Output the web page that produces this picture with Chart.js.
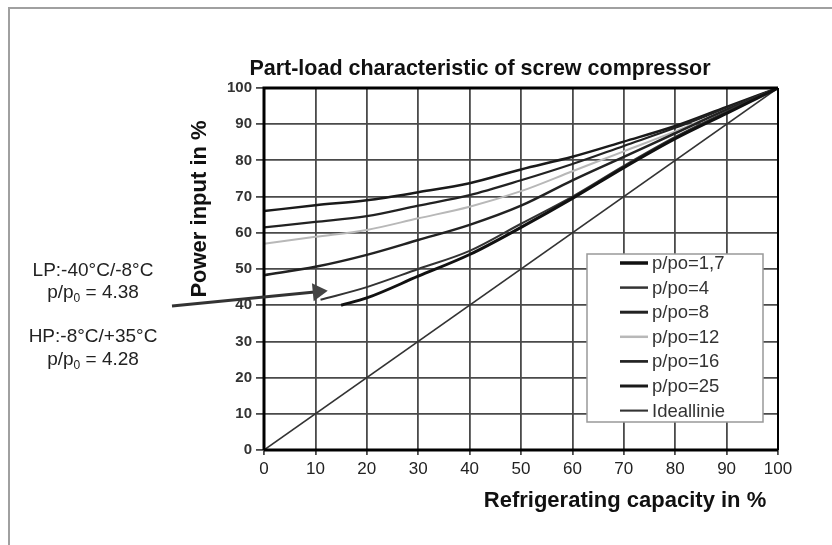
<!DOCTYPE html>
<html lang="en">
<head>
<meta charset="UTF-8" />
<title>Part-load characteristic of screw compressor</title>
<script src="https://cdn.jsdelivr.net/npm/chart.js@4.4.1/dist/chart.umd.min.js"></script>
<style>
  body { margin: 0; background: #fff; }
  #wrap { position: relative; width: 832px; height: 545px; }
  #frame { position: absolute; left: 8px; top: 7px; right: -10px; bottom: -10px;
           border-top: 2px solid #a0a0a0; border-left: 2px solid #a0a0a0; pointer-events: none; }
  canvas { position: absolute; left: 0; top: 0; }
</style>
</head>
<body>
<div id="wrap">
  <canvas id="chart" width="832" height="545"></canvas>
  <div id="frame"></div>
</div>
<script>
  // refrigerating capacity in % (x) and power input in % (y)
  const capacity = [0, 10, 20, 30, 40, 50, 60, 70, 80, 90, 100];
  const cap17 = [15, 20, 30, 40, 50, 60, 70, 80, 90, 100];
  const pow17 = [40, 42, 48, 54, 61.5, 69.5, 78, 86, 93, 100];
  const cap4 = [11, 20, 30, 40, 50, 60, 70, 80, 90, 100];
  const pow4 = [41.5, 45, 50, 55, 62.5, 70, 78.5, 86.5, 93.5, 100];
  const pow8 = [48.3, 50.6, 53.9, 58, 62.2, 67.5, 74.5, 81, 87.5, 94, 100];
  const pow12 = [57, 58.9, 60.8, 64, 67.2, 71.5, 77, 82.5, 88, 94, 100];
  const pow16 = [61.5, 63, 64.6, 67.5, 70.4, 74.5, 79, 84, 89, 94.5, 100];
  const pow25 = [66, 67.6, 69, 71.2, 73.7, 77.5, 81, 85.2, 89.5, 94.8, 100];
  const capIdeal = [0, 100];
  const powIdeal = [0, 100];

  const seriesNames = ['p/po=1,7', 'p/po=4', 'p/po=8', 'p/po=12', 'p/po=16', 'p/po=25', 'Ideallinie'];
  const seriesColors = ['#111', '#333', '#222', '#b8b8b8', '#222', '#1a1a1a', '#333'];
  const seriesWidths = [3, 2, 2.5, 2, 2.2, 2.5, 1.6];

  function pts(xs, ys) { return xs.map((x, i) => ({ x: x, y: ys[i] })); }
  const seriesData = [
    pts(cap17, pow17), pts(cap4, pow4), pts(capacity, pow8), pts(capacity, pow12),
    pts(capacity, pow16), pts(capacity, pow25), pts(capIdeal, powIdeal)
  ];

  const FONT = "'Liberation Sans', Arial, sans-serif";

  function subText(ctx, cx, cy, a, sub, b, size) {
    ctx.font = size + 'px ' + FONT;
    const wa = ctx.measureText(a).width, wb = ctx.measureText(b).width;
    ctx.font = Math.round(size * 0.65) + 'px ' + FONT;
    const ws = ctx.measureText(sub).width;
    let x = cx - (wa + ws + wb) / 2;
    ctx.textAlign = 'left';
    ctx.font = size + 'px ' + FONT;
    ctx.fillText(a, x, cy);
    ctx.font = Math.round(size * 0.65) + 'px ' + FONT;
    ctx.fillText(sub, x + wa, cy + size * 0.3);
    ctx.font = size + 'px ' + FONT;
    ctx.fillText(b, x + wa + ws, cy);
  }

  const decor = {
    id: 'decor',
    afterDraw(chart) {
      const ctx = chart.ctx, a = chart.chartArea;
      const xs = chart.scales.x, ys = chart.scales.y;
      ctx.save();
      // plot frame
      ctx.strokeStyle = '#000';
      ctx.lineWidth = 3;
      ctx.beginPath();
      ctx.moveTo(a.left, a.bottom); ctx.lineTo(a.left, a.top); ctx.lineTo(a.right, a.top);
      ctx.moveTo(a.left, a.bottom); ctx.lineTo(a.right, a.bottom);
      ctx.stroke();
      ctx.lineWidth = 2;
      ctx.beginPath(); ctx.moveTo(a.right, a.top); ctx.lineTo(a.right, a.bottom); ctx.stroke();

      // titles
      ctx.fillStyle = '#111';
      ctx.textBaseline = 'middle';
      ctx.textAlign = 'center';
      ctx.font = 'bold 21.5px ' + FONT;
      ctx.fillText('Part-load characteristic of screw compressor', 480, 69);
      ctx.font = 'bold 22px ' + FONT;
      ctx.fillText('Refrigerating capacity in %', 625, 501);
      ctx.save();
      ctx.translate(200, 209);
      ctx.rotate(-Math.PI / 2);
      ctx.fillText('Power input in %', 0, 0);
      ctx.restore();

      // operating point annotation
      ctx.fillStyle = '#222';
      ctx.font = '19px ' + FONT;
      ctx.fillText('LP:-40\u00B0C/-8\u00B0C', 93, 271);
      subText(ctx, 93, 293, 'p/p', '0', ' = 4.38', 19);
      ctx.textAlign = 'center';
      ctx.fillText('HP:-8\u00B0C/+35\u00B0C', 93, 337);
      subText(ctx, 93, 360, 'p/p', '0', ' = 4.28', 19);

      const tx = xs.getPixelForValue(12.4), ty = ys.getPixelForValue(44);
      const sx = 172, sy = 306;
      const ang = Math.atan2(ty - sy, tx - sx);
      ctx.strokeStyle = '#333';
      ctx.fillStyle = '#444';
      ctx.lineWidth = 3;
      ctx.beginPath();
      ctx.moveTo(sx, sy);
      ctx.lineTo(tx - 13 * Math.cos(ang), ty - 13 * Math.sin(ang));
      ctx.stroke();
      ctx.beginPath();
      ctx.moveTo(tx, ty);
      ctx.lineTo(tx - 15 * Math.cos(ang) + 9 * Math.sin(ang), ty - 15 * Math.sin(ang) - 9 * Math.cos(ang));
      ctx.lineTo(tx - 15 * Math.cos(ang) - 9 * Math.sin(ang), ty - 15 * Math.sin(ang) + 9 * Math.cos(ang));
      ctx.closePath();
      ctx.fill();

      // legend box
      const lx = 587, ly = 254, lw = 176, lh = 168;
      ctx.fillStyle = '#fff';
      ctx.fillRect(lx, ly, lw, lh);
      ctx.strokeStyle = '#999';
      ctx.lineWidth = 1.5;
      ctx.strokeRect(lx, ly, lw, lh);
      ctx.font = '18.5px ' + FONT;
      ctx.textAlign = 'left';
      chart.data.datasets.forEach((ds, i) => {
        const y = 263 + i * 24.6;
        ctx.strokeStyle = ds.borderColor;
        ctx.lineWidth = ds.borderWidth + 0.5;
        ctx.beginPath(); ctx.moveTo(620, y); ctx.lineTo(648, y); ctx.stroke();
        ctx.fillStyle = '#333';
        ctx.fillText(ds.label, 652, y + 1);
      });
      ctx.restore();
    }
  };

  new Chart(document.getElementById('chart'), {
    type: 'line',
    data: {
      datasets: seriesNames.map((name, i) => ({
        label: name,
        data: seriesData[i],
        borderColor: seriesColors[i],
        borderWidth: seriesWidths[i],
        pointRadius: 0,
        fill: false,
        cubicInterpolationMode: 'monotone'
      }))
    },
    options: {
      responsive: false,
      animation: false,
      layout: { padding: { left: 224, right: 54, top: 88, bottom: 55 } },
      plugins: { legend: { display: false }, title: { display: false }, tooltip: { enabled: false } },
      scales: {
        x: {
          type: 'linear', min: 0, max: 100,
          afterFit: s => { s.height = 40; },
          ticks: { stepSize: 10, color: '#222', padding: 4, font: { family: FONT, size: 17 } },
          grid: { color: '#4a4a4a', lineWidth: 1.8, tickLength: 5 },
          border: { display: false }
        },
        y: {
          type: 'linear', min: 0, max: 100,
          afterFit: s => { s.width = 40; },
          ticks: { stepSize: 10, color: '#333', padding: 4, font: { family: FONT, size: 15, weight: 'bold' } },
          grid: { color: '#4a4a4a', lineWidth: 1.8, tickLength: 8 },
          border: { display: false }
        }
      }
    },
    plugins: [decor]
  });
</script>
</body>
</html>
